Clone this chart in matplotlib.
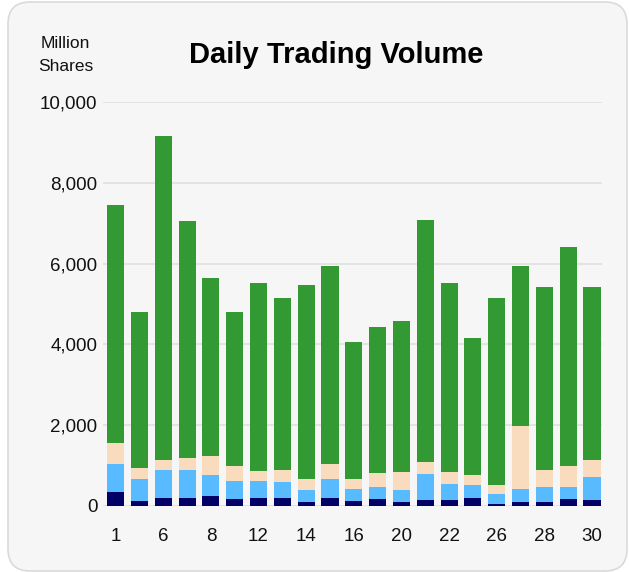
import numpy as np
import matplotlib
matplotlib.use("Agg")
import matplotlib.pyplot as plt
from matplotlib.patches import FancyBboxPatch
from matplotlib.ticker import FuncFormatter

plt.rcParams['font.family'] = ['Liberation Sans', 'DejaVu Sans']

# trading days (only every other one is labelled on the axis)
days = ["1", "5", "6", "7", "8", "9", "12", "13", "14", "15", "16",
        "19", "20", "21", "22", "23", "26", "27", "28", "29", "30"]

# stacked volume segments, million shares (bottom to top)
navy_vol = [340, 120, 190, 210, 240, 170, 190, 210, 90, 190, 120,
            170, 90, 140, 140, 190, 40, 90, 90, 170, 140]
blue_vol = [710, 560, 690, 670, 520, 440, 420, 380, 300, 490, 290,
            290, 300, 640, 400, 320, 250, 320, 370, 290, 570]
beige_vol = [520, 250, 250, 300, 490, 370, 250, 290, 290, 370, 250,
             350, 440, 320, 290, 250, 220, 1560, 420, 520, 420]
green_vol = [5890, 3860, 8030, 5880, 4400, 3810, 4650, 4280, 4800, 4880, 3390,
             3610, 3740, 5990, 4680, 3410, 4630, 3960, 4550, 5420, 4300]

series = [navy_vol, blue_vol, beige_vol, green_vol]
colors = ["#000066", "#59BBFF", "#F9DBBE", "#339933"]

fig = plt.figure(figsize=(6.29, 5.72), dpi=100, facecolor="white")

# rounded panel behind everything
box = FancyBboxPatch((0.08, 0.01), 6.19, 5.69,
                     boxstyle="round,pad=0,rounding_size=0.22",
                     transform=fig.dpi_scale_trans,
                     facecolor="#F6F6F6", edgecolor="#DADADA", linewidth=1.2,
                     zorder=0)
fig.add_artist(box)

ax = fig.add_axes([103 / 629, 66 / 572, 499 / 629, 404 / 572])
ax.set_facecolor("none")

x = np.arange(len(days))
bottom = np.zeros(len(days))
for vals, col in zip(series, colors):
    ax.bar(x, vals, width=0.72, bottom=bottom, color=col, zorder=3)
    bottom += np.array(vals)

ax.set_xlim(-0.53, len(days) - 0.58)
ax.set_ylim(0, 10000)
ax.set_yticks(np.arange(0, 10001, 2000))
ax.yaxis.set_major_formatter(FuncFormatter(lambda v, p: "{:,.0f}".format(v)))
ax.set_xticks(x[::2])
ax.set_xticklabels(days[::2])
ax.grid(axis="y", color="#DEDEDE", linewidth=1.1, zorder=0)
ax.set_axisbelow(True)
for s in ax.spines.values():
    s.set_visible(False)
ax.tick_params(axis="both", length=0, labelsize=13.5, colors="#111111")
ax.tick_params(axis="y", pad=4)
ax.tick_params(axis="x", pad=16)

# unit label, two lines
fig.text(65 / 629, 1 - 43 / 572, "Million", ha="center", va="center",
         fontsize=12.5, color="#111111")
fig.text(66 / 629, 1 - 67 / 572, "Shares", ha="center", va="center",
         fontsize=12.5, color="#111111")
fig.text(336 / 629, 1 - 55 / 572, "Daily Trading Volume", ha="center", va="center",
         fontsize=21, fontweight="bold", color="#000000")

fig.savefig("out.png", dpi=100, facecolor="white")
